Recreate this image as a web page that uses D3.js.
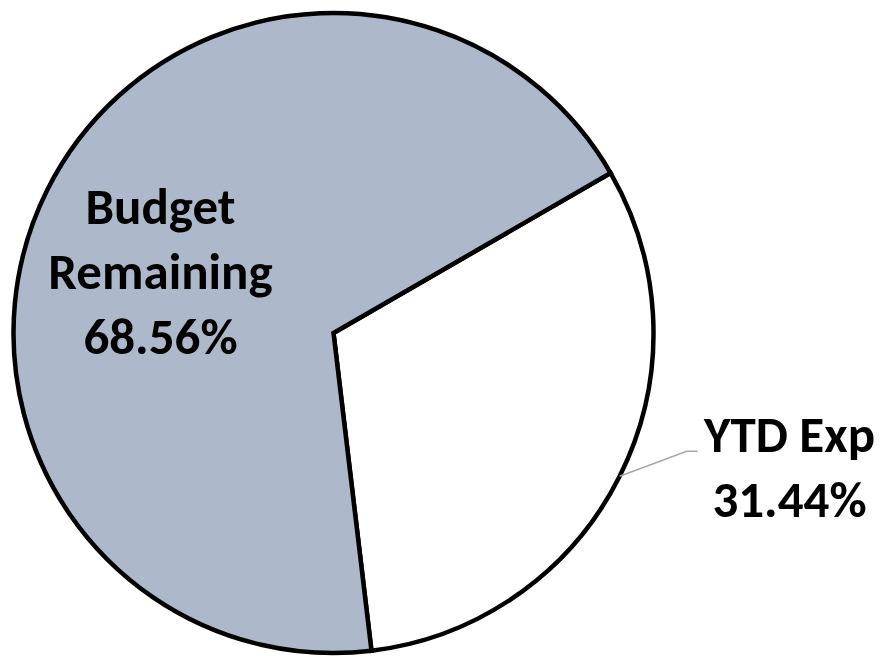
<!DOCTYPE html>
<meta charset="utf-8">
<style>
body {
  margin: 0;
  background: #fff;
}
.label {
  font-family: Carlito, Calibri, "Open Sans", sans-serif;
  font-weight: bold;
  font-size: 51px;
  fill: #000;
}
</style>
<body>
<svg width="886" height="657"></svg>
<script src="https://d3js.org/d3.v7.min.js"></script>
<script>
var categories = ["YTD Exp", "Budget Remaining"];
var values = [31.44, 68.56];
var labelLines = [["YTD Exp", "31.44%"], ["Budget", "Remaining", "68.56%"]];
var colors = ["#ffffff", "#adb9ca"];

var svg = d3.select("svg"),
    cx = 333.5,
    cy = 333,
    radius = 320;

var g = svg.append("g").attr("transform", "translate(" + cx + "," + cy + ")");

var pie = d3.pie()
    .sort(null)
    .startAngle(60 * Math.PI / 180)
    .endAngle(60 * Math.PI / 180 + 2 * Math.PI)
    .value(function(d) { return d; });

var arc = d3.arc().innerRadius(0).outerRadius(radius);

var arcs = pie(values);

g.selectAll(".slice")
    .data(arcs)
  .enter().append("path")
    .attr("class", "slice")
    .attr("d", arc)
    .attr("fill", function(d, i) { return colors[i]; })
    .attr("stroke", "#000")
    .attr("stroke-width", 4.5)
    .attr("stroke-linejoin", "miter");

// leader line for the outside label
var ytd = arcs[0],
    mid = (ytd.startAngle + ytd.endAngle) / 2,
    p0 = [Math.sin(mid) * radius, -Math.cos(mid) * radius];

g.append("polyline")
    .attr("points", [p0, [p0[0] + 67, p0[1] - 25], [p0[0] + 78, p0[1] - 25]].join(" "))
    .attr("fill", "none")
    .attr("stroke", "#a6a6a6")
    .attr("stroke-width", 1.5);

// label anchors, relative to the pie centre
var labelPos = [[456, 119], [-173, -109]];
var lineGap = 65;

labelLines.forEach(function(lines, i) {
  var t = g.append("text")
      .attr("class", "label")
      .attr("text-anchor", "middle")
      .attr("x", labelPos[i][0])
      .attr("y", labelPos[i][1]);
  lines.forEach(function(s, j) {
    t.append("tspan")
        .attr("x", labelPos[i][0])
        .attr("y", labelPos[i][1] + j * lineGap)
        .text(s);
  });
});
</script>
</body>
